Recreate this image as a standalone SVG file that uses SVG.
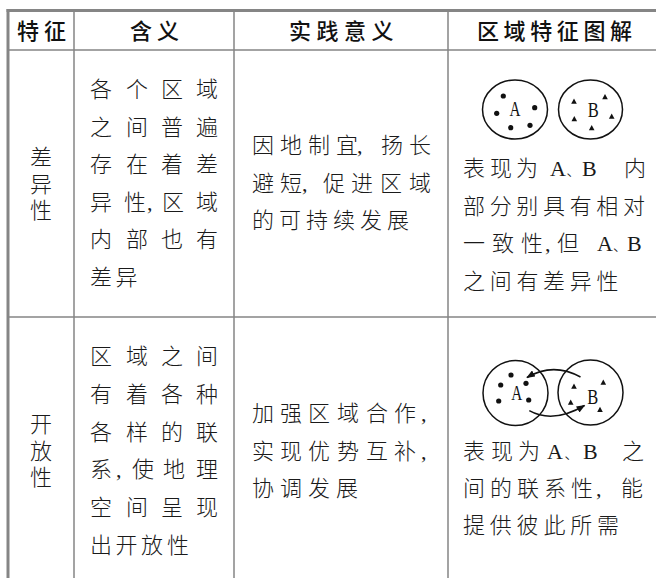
<svg xmlns="http://www.w3.org/2000/svg" width="656" height="578" viewBox="0 0 656 578">
<style>
.grid{stroke:#858585;stroke-width:1.5;fill:none}
.thick{stroke:#858585;stroke-width:3;fill:none}
.hd{font-family:"Noto Sans CJK SC","Noto Sans",sans-serif;font-size:22px;font-weight:500;fill:#111}
.tx{font-family:"Noto Sans CJK SC","Noto Sans",sans-serif;font-size:22px;font-weight:300;fill:#1a1a1a}
.vt{writing-mode:vertical-rl;letter-spacing:4.5px}
.lat{font-family:"Liberation Serif",serif;font-size:22px;font-weight:400}
.pc{font-size:14px}
.lbl{font-family:"Liberation Serif",serif;font-size:20px;fill:#111}
.ring{stroke:#111;stroke-width:1.5;fill:none}
.dot{fill:#111}
.arc{stroke:#111;stroke-width:1.5;fill:none}
</style>
<defs>
<marker id="ah" viewBox="0 0 10 8" refX="9" refY="4" markerWidth="9" markerHeight="7" markerUnits="userSpaceOnUse" orient="auto">
<path d="M0,0 L10,4 L0,8 Z" fill="#111"/>
</marker>
<polygon id="tri" points="0,-3.2 2.8,2 -2.8,2" fill="#111"/>
</defs>
<rect width="656" height="578" fill="#fff"/>
<g id="table-lines">
<line class="thick" x1="6.5" y1="10.5" x2="656" y2="10.5"/>
<line class="thick" x1="8" y1="9" x2="8" y2="578"/>
<line class="grid" x1="8" y1="50" x2="656" y2="50"/>
<line class="grid" x1="8" y1="317" x2="656" y2="317"/>
<line class="grid" x1="74" y1="12" x2="74" y2="578"/>
<line class="grid" x1="234" y1="12" x2="234" y2="578"/>
<line class="grid" x1="448" y1="12" x2="448" y2="578"/>
</g>
<g id="header">
<text class="hd" y="38.5" x="17 44">特征</text>
<text class="hd" y="38.5" x="130 157">含义</text>
<text class="hd" y="38.5" x="289 316.5 344 371.5">实践意义</text>
<text class="hd" y="38.5" x="477 503.6 530.2 556.8 583.4 610">区域特征图解</text>
</g>
<g id="row1-feature">
<text class="tx vt" x="41" y="146">差异性</text>
</g>
<g id="row1-meaning">
<text class="tx" y="97.4" x="90 126 161 196">各个区域</text>
<text class="tx" y="134.9" x="90 126 161 196">之间普遍</text>
<text class="tx" y="172.4" x="90 126 161 196">存在着差</text>
<text class="tx" y="209.9"><tspan x="90 124">异性</tspan><tspan class="lat" x="147">,</tspan><tspan x="162 196">区域</tspan></text>
<text class="tx" y="247.4" x="90 126 161 196">内部也有</text>
<text class="tx" y="284.9" x="90 115.5">差异</text>
</g>
<g id="row1-practice">
<text class="tx" y="153.4"><tspan x="252 280 308 336">因地制宜</tspan><tspan class="lat" x="357">,</tspan><tspan x="381 409">扬长</tspan></text>
<text class="tx" y="190.9"><tspan x="252 280">避短</tspan><tspan class="lat" x="302">,</tspan><tspan x="323 351 380 409">促进区域</tspan></text>
<text class="tx" y="228.4" x="252 279 306 333 360 387">的可持续发展</text>
</g>
<g id="row1-diagram">
<ellipse class="ring" cx="515" cy="109.5" rx="32.5" ry="29.5"/>
<ellipse class="ring" cx="590.5" cy="109.5" rx="32" ry="29.5"/>
<circle class="dot" cx="503.3" cy="96" r="2.6"/>
<circle class="dot" cx="496.7" cy="113.3" r="2.6"/>
<circle class="dot" cx="510.7" cy="127.7" r="2.6"/>
<circle class="dot" cx="530" cy="125.3" r="2.6"/>
<circle class="dot" cx="534.7" cy="107.7" r="2.6"/>
<text class="lbl" x="515" y="115.5" text-anchor="middle" textLength="11" lengthAdjust="spacingAndGlyphs">A</text>
<use href="#tri" x="574" y="101.7"/>
<use href="#tri" x="605" y="97.3"/>
<use href="#tri" x="574.3" y="119.3"/>
<use href="#tri" x="611.7" y="116.7"/>
<use href="#tri" x="591.7" y="128.3"/>
<text class="lbl" x="593.3" y="116.5" text-anchor="middle" textLength="11" lengthAdjust="spacingAndGlyphs">B</text>
</g>
<g id="row1-caption">
<text class="tx" y="176.4"><tspan x="463 490 516">表现为</tspan><tspan class="lat" x="550">A</tspan><tspan class="pc" x="566.5">、</tspan><tspan class="lat" x="582">B</tspan><tspan x="624">内</tspan></text>
<text class="tx" y="213.9" x="463 489.7 516.3 543 569.7 596.3 623">部分别具有相对</text>
<text class="tx" y="251.4"><tspan x="463 492 521">一致性</tspan><tspan class="lat" x="545">,</tspan><tspan x="557">但</tspan><tspan class="lat" x="597">A</tspan><tspan class="pc" x="613">、</tspan><tspan class="lat" x="627">B</tspan></text>
<text class="tx" y="288.9" x="463 489.7 516.4 543.1 569.8 596.5">之间有差异性</text>
</g>
<g id="row2-feature">
<text class="tx vt" x="41" y="413">开放性</text>
</g>
<g id="row2-meaning">
<text class="tx" y="363.9" x="90 126 161 196">区域之间</text>
<text class="tx" y="401.7" x="90 126 161 196">有着各种</text>
<text class="tx" y="439.5" x="90 126 161 196">各样的联</text>
<text class="tx" y="477.3"><tspan x="90">系</tspan><tspan class="lat" x="116">,</tspan><tspan x="132 163 196">使地理</tspan></text>
<text class="tx" y="515.1" x="90 126 161 196">空间呈现</text>
<text class="tx" y="552.9" x="90 115.5 141 167">出开放性</text>
</g>
<g id="row2-practice">
<text class="tx" y="421.4"><tspan x="252 280 308 337 366 394">加强区域合作</tspan><tspan class="lat" x="421">,</tspan></text>
<text class="tx" y="458.9"><tspan x="252 280 308 337 366 394">实现优势互补</tspan><tspan class="lat" x="421">,</tspan></text>
<text class="tx" y="496.4" x="252 280 308 336">协调发展</text>
</g>
<g id="row2-diagram">
<circle class="ring" cx="515.5" cy="393" r="32.5"/>
<circle class="ring" cx="590.5" cy="392.5" r="32.5"/>
<circle class="dot" cx="511" cy="375" r="2.6"/>
<circle class="dot" cx="500.7" cy="385" r="2.6"/>
<circle class="dot" cx="526" cy="383.3" r="2.6"/>
<circle class="dot" cx="498.7" cy="401" r="2.6"/>
<circle class="dot" cx="528.7" cy="400" r="2.6"/>
<text class="lbl" x="516.7" y="400.3" text-anchor="middle" textLength="11" lengthAdjust="spacingAndGlyphs">A</text>
<use href="#tri" x="574" y="386.7"/>
<use href="#tri" x="603.3" y="382.7"/>
<use href="#tri" x="570.7" y="402.7"/>
<use href="#tri" x="600" y="410"/>
<text class="lbl" x="592.7" y="404.3" text-anchor="middle" textLength="11" lengthAdjust="spacingAndGlyphs">B</text>
</g>
<g id="connectors">
<path class="arc" d="M580.5,377 Q553,362 527,377.5" marker-end="url(#ah)"/>
<path class="arc" d="M529.3,410.7 Q553,424 584.5,405.5" marker-end="url(#ah)"/>
</g>
<g id="row2-caption">
<text class="tx" y="459.4"><tspan x="463 491 518">表现为</tspan><tspan class="lat" x="547">A</tspan><tspan class="pc" x="564.5">、</tspan><tspan class="lat" x="583">B</tspan><tspan x="622">之</tspan></text>
<text class="tx" y="496.4"><tspan x="463 490 517 544 571">间的联系性</tspan><tspan class="lat" x="596">,</tspan><tspan x="621">能</tspan></text>
<text class="tx" y="532.9" x="463 489.8 516.6 543.4 570.2 597">提供彼此所需</text>
</g>
</svg>
